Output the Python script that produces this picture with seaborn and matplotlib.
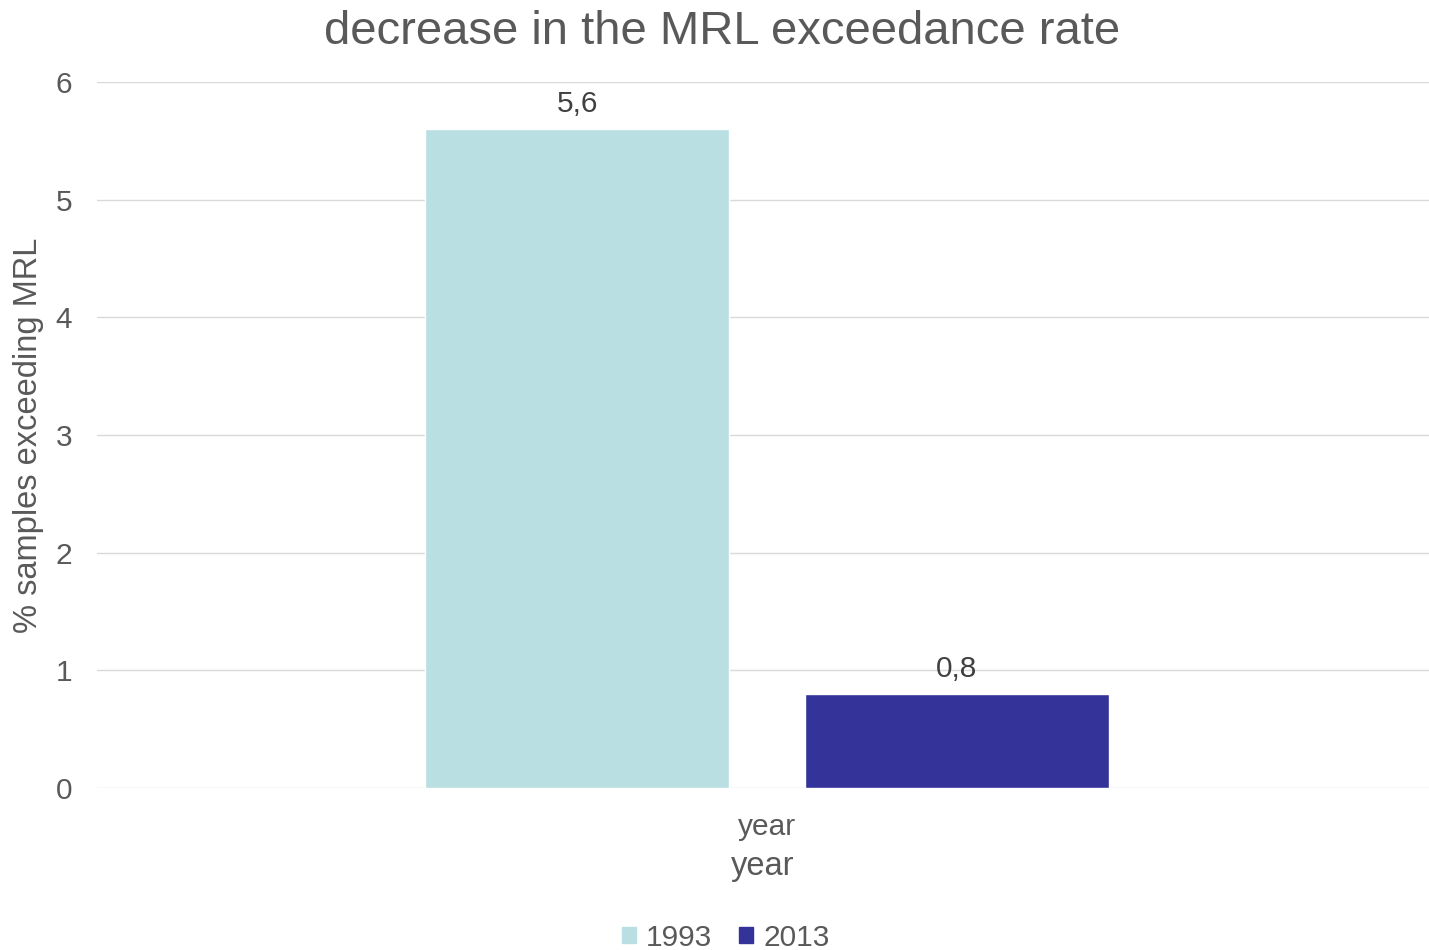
import pandas as pd
import matplotlib
matplotlib.use("Agg")
import matplotlib.pyplot as plt
import seaborn as sns

categoria = ["year", "year"]
anios = ["1993", "2013"]
porcentajes = [5.6, 0.8]
colores = ["#B9DFE2", "#333399"]

datos = pd.DataFrame({"cat": categoria, "anio": anios, "valor": porcentajes})

sns.set_theme(style="white")
plt.rcParams["font.family"] = ["Liberation Sans", "DejaVu Sans"]
gris = "#595959"

fig = plt.figure(figsize=(14.29, 9.5), dpi=100)
ax = fig.add_axes([0.0679, 0.1705, 0.9321, 0.7432])

sns.barplot(data=datos, x="cat", y="valor", hue="anio", palette=colores,
            width=0.57, gap=0.2, ax=ax, saturation=1, legend=False)

for cont, v in zip(ax.containers, porcentajes):
    ax.bar_label(cont, labels=[f"{v:.1f}".replace(".", ",")], padding=8,
                 fontsize=21.5, color="#404040")

ax.set_ylim(0, 6)
ax.set_xlim(-0.503, 0.497)
ax.set_yticks(range(0, 7))
ax.yaxis.grid(True, color="#D9D9D9", lw=1)
ax.set_axisbelow(True)
for s in ax.spines.values():
    s.set_visible(False)
ax.tick_params(axis="y", length=0, labelsize=21.5, colors=gris, pad=18)
ax.tick_params(axis="x", length=0, labelsize=21.5, colors=gris, pad=18)
ax.set_xlabel("year", fontsize=23.5, color=gris, labelpad=7)
ax.set_ylabel("% samples exceeding MRL", fontsize=23.5, color=gris, labelpad=8)
fig.text(0.505, 0.99, "decrease in the MRL exceedance rate", fontsize=34,
         color=gris, ha="center", va="top")

manijas = [plt.Rectangle((0, 0), 1, 1, color=c) for c in colores]
fig.legend(manijas, anios, loc="lower center", bbox_to_anchor=(0.508, -0.03), ncol=2,
           frameon=False, fontsize=21.5, labelcolor=gris, handlelength=0.45,
           handleheight=0.45, handletextpad=0.35, columnspacing=0.9)

fig.savefig("out.png", dpi=100)
